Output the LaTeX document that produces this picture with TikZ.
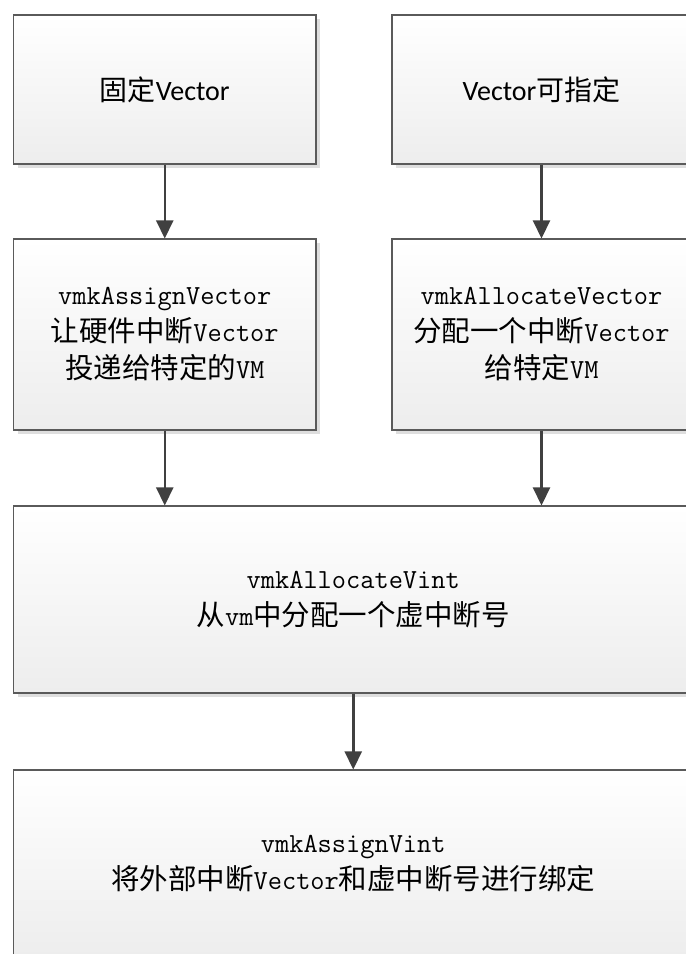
\documentclass[tikz,border=0pt]{standalone}
\usepackage{fontspec}
\usetikzlibrary{arrows.meta,shadows}
\newfontfamily\cjkfont{Noto Sans CJK SC}
\newfontfamily\calfont{Carlito}
\newcommand\zh[1]{{\cjkfont\fontsize{28.5pt}{37pt}\selectfont #1}}
\definecolor{edgegray}{RGB}{90,90,90}
\definecolor{arrgray}{RGB}{64,64,64}
\definecolor{shadowgray}{RGB}{222,222,222}
\definecolor{boxbottom}{RGB}{237,237,237}
\tikzset{
  box/.style={draw=edgegray, line width=1.1pt, top color=white, bottom color=boxbottom,
    inner sep=0pt, align=center,
    drop shadow={shadow xshift=4pt, shadow yshift=-4pt, fill=shadowgray, opacity=1}},
  topbox/.style={box, font=\calfont\fontsize{28pt}{37pt}\selectfont},
  codebox/.style={box, font=\ttfamily\fontsize{27.6pt}{37pt}\selectfont},
  arr/.style={draw=arrgray, line width=2.5pt, -{Triangle[length=18pt,width=17pt]}}
}
\begin{document}
\begin{tikzpicture}[x=1pt,y=-1pt]
\path[use as bounding box] (0,0) rectangle (686,954);
\node[topbox, minimum width=302.5pt, minimum height=149pt] (b1) at (164.75,89.5)
  {{\cjkfont\fontsize{28pt}{37pt}\selectfont 固定}Vector};
\node[topbox, minimum width=299pt, minimum height=149pt] (b2) at (541.5,89.5)
  {Vector{\cjkfont\fontsize{28pt}{37pt}\selectfont 可指定}};
\node[codebox, minimum width=302.5pt, minimum height=191pt] (b3) at (164.75,334.5)
  {vmkAssignVector\\ \zh{让硬件中断}Vector\\ \zh{投递给特定的}VM};
\node[codebox, minimum width=299pt, minimum height=191pt] (b4) at (541.5,334.5)
  {vmkAllocateVector\\ \zh{分配一个中断}Vector\\ \zh{给特定}VM};
\node[codebox, minimum width=679.5pt, minimum height=187pt] (b5) at (353.25,599.5)
  {vmkAllocateVint\\ \zh{从}vm\zh{中分配一个虚中断号}};
\node[codebox, minimum width=679.5pt, minimum height=187pt] (b6) at (353.25,863.5)
  {vmkAssignVint\\ \zh{将外部中断}Vector\zh{和虚中断号进行绑定}};
\draw[arr] (b1.south) -- (b3.north);
\draw[arr] (b2.south) -- (b4.north);
\draw[arr] (b3.south) -- (b3.south |- b5.north);
\draw[arr] (b4.south) -- (b4.south |- b5.north);
\draw[arr] (b5.south) -- (b6.north);
\end{tikzpicture}
\end{document}
